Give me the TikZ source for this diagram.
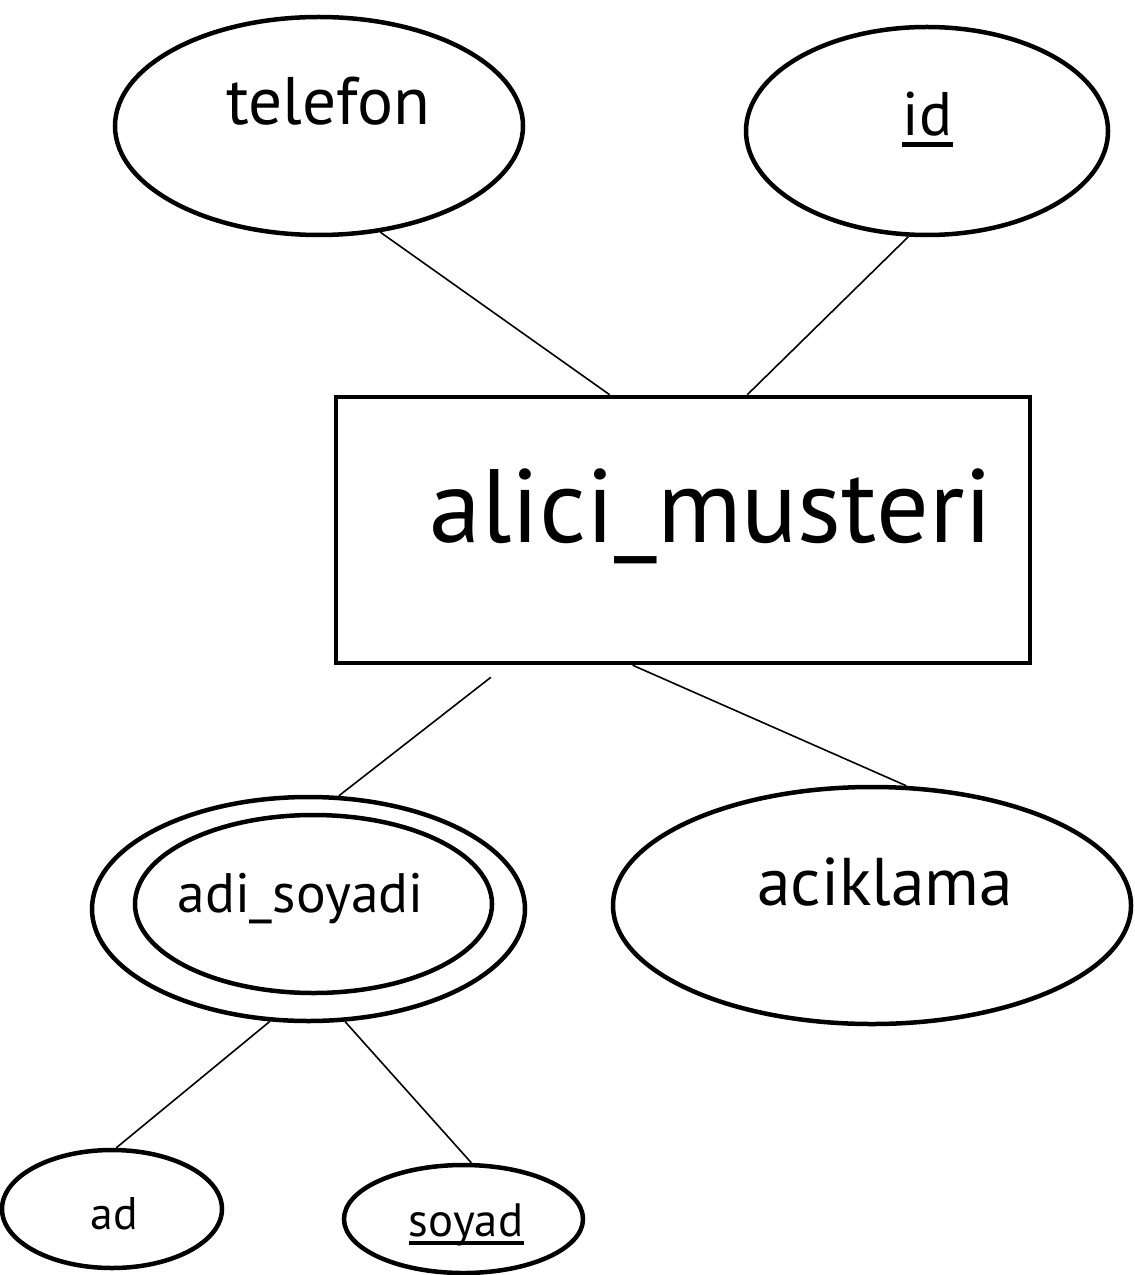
\documentclass[tikz,border=0pt]{standalone}
\usepackage{fontspec}
\setmainfont{PT Sans}
\usetikzlibrary{shapes.geometric,calc}
\begin{document}
\begin{tikzpicture}[x=0.2mm,y=-0.2mm,
  attr/.style={ellipse,draw,line width=0.9mm,inner sep=0},
  entity/.style={rectangle,draw,line width=0.9mm,inner sep=0},
  conn/.style={line width=0.32mm},
  lbl/.style={inner sep=0,anchor=base},
  uline/.style={line width=0.9mm}]
\useasboundingbox (0,0) rectangle (1134,1275);
% shapes
\node[attr,minimum width=81.6mm,minimum height=43.6mm] (telefon) at (319,126) {};
\node[attr,minimum width=72.4mm,minimum height=41.6mm] (id) at (927,131) {};
\node[entity,minimum width=138.8mm,minimum height=53.2mm] (rect) at (683,530) {};
\node[attr,minimum width=86.6mm,minimum height=44.8mm] (adiout) at (308.5,909) {};
\node[attr,minimum width=71.4mm,minimum height=35.6mm] (adiin) at (313.5,904) {};
\node[attr,minimum width=103.6mm,minimum height=47.4mm] (aciklama) at (872,905.5) {};
\node[attr,minimum width=44mm,minimum height=23.6mm] (ad) at (112,1209) {};
\node[attr,minimum width=47.8mm,minimum height=21.6mm] (soyad) at (463.5,1219) {};
% labels
\node[lbl,font=\fontsize{38.3pt}{40pt}\selectfont] (telefont) at (328.5,125) {telefon};
\node[lbl,font=\fontsize{35pt}{37pt}\selectfont] (idt) at (927.5,136) {id};
\node[lbl,font=\fontsize{59.3pt}{62pt}\selectfont] (rectt) at (711,542) {alici\_musteri};
\node[lbl,font=\fontsize{31.6pt}{33pt}\selectfont] (adit) at (300.5,912) {adi\_soyadi};
\node[lbl,font=\fontsize{38.4pt}{40pt}\selectfont] (aciklamat) at (885,905) {aciklama};
\node[lbl,font=\fontsize{26pt}{28pt}\selectfont] (adt) at (114,1229) {ad};
\node[lbl,font=\fontsize{26.6pt}{28pt}\selectfont] (soyadt) at (466,1236) {soyad};
% underlines
\draw[uline] ([yshift=-1.7mm]idt.base west) -- ([yshift=-1.7mm]idt.base east);
\draw[uline] ([yshift=-1.4mm]soyadt.base west) -- ([yshift=-1.4mm]soyadt.base east);
% connectors
\draw[conn] (telefon.-60) -- ($(rect.north west)!0.395!(rect.north east)$);
\draw[conn] (id.-100) -- ($(rect.north west)!0.592!(rect.north east)$);
\draw[conn] ([yshift=-2.4mm]$(rect.south west)!0.225!(rect.south east)$) -- (adiout.75);
\draw[conn] ($(rect.south west)!0.428!(rect.south east)$) -- (aciklama.74);
\draw[conn] (adiout.-109) -- (ad.86);
\draw[conn] (adiout.-72) -- (soyad.82);
\end{tikzpicture}
\end{document}
